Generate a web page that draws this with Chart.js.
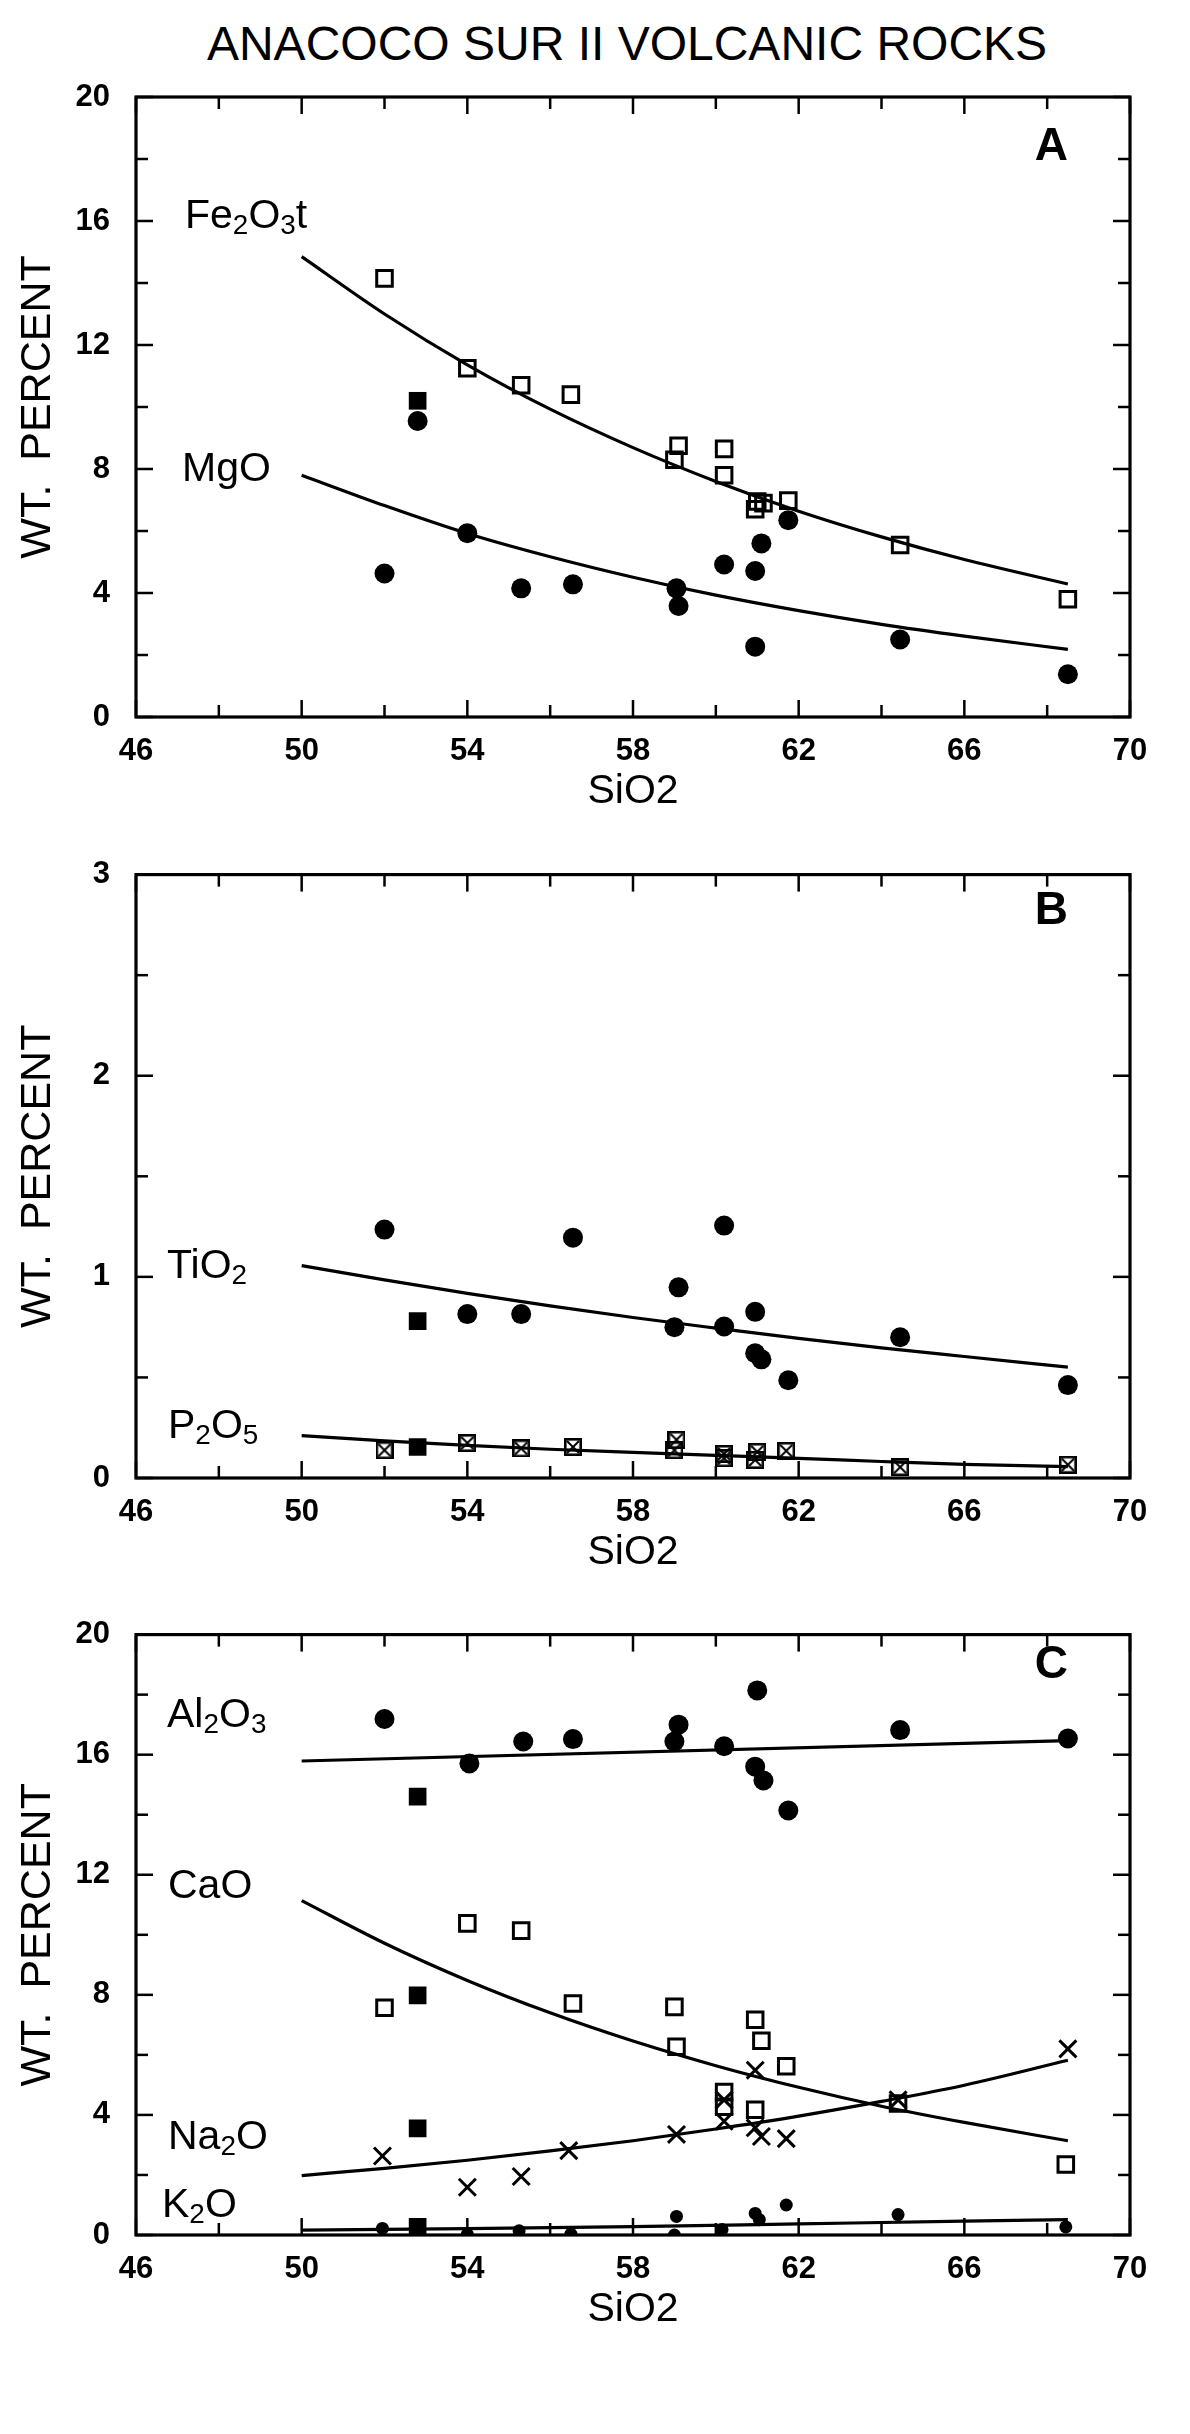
<!DOCTYPE html>
<html><head><meta charset="utf-8">
<script src="https://cdn.jsdelivr.net/npm/chart.js@4.4.0/dist/chart.umd.min.js"></script>
<style>
html,body{margin:0;padding:0;background:#fff;}
body{width:1190px;height:2434px;position:relative;overflow:hidden;font-family:'Liberation Sans',Arial,sans-serif;color:#000;}
canvas{position:absolute;left:0;}
.lbl{position:absolute;font-size:41px;line-height:1;white-space:nowrap;}
.lbl .s{font-size:0.68em;position:relative;top:0.22em;}
.pl{position:absolute;font-size:46px;font-weight:bold;line-height:1;transform:translateX(-100%);}
#title{position:absolute;top:20px;left:627px;transform:translateX(-50%);font-size:48px;line-height:1;white-space:nowrap;}
</style></head><body>
<div id="title">ANACOCO SUR II VOLCANIC ROCKS</div>
<canvas id="cA"></canvas>
<canvas id="cB"></canvas>
<canvas id="cC"></canvas>
<div class="lbl" style="left:185px;top:194px">Fe<span class="s">2</span>O<span class="s">3</span>t</div>
<div class="lbl" style="left:182px;top:447px">MgO</div>
<div class="lbl" style="left:167px;top:1244px">TiO<span class="s">2</span></div>
<div class="lbl" style="left:168px;top:1404px">P<span class="s">2</span>O<span class="s">5</span></div>
<div class="lbl" style="left:167px;top:1693px">Al<span class="s">2</span>O<span class="s">3</span></div>
<div class="lbl" style="left:168px;top:1864px">CaO</div>
<div class="lbl" style="left:168px;top:2115px">Na<span class="s">2</span>O</div>
<div class="lbl" style="left:162px;top:2183px">K<span class="s">2</span>O</div>
<div class="pl" style="left:1068px;top:121px">A</div>
<div class="pl" style="left:1068px;top:885px">B</div>
<div class="pl" style="left:1068px;top:1639px">C</div>
<script>
// ---------- axis ticks ----------
const xMin = 46, xMax = 70, xStep = 2, xLabelStep = 4;
const yMaxAC = 20, yStepAC = 2, yLabelStepAC = 4;
const yMaxB = 3, yStepB = 0.5, yLabelStepB = 1;

// ---------- Panel A ----------
const fe2o3SiO2 = [52.0, 54.0, 55.3, 56.5, 59.0, 59.1, 60.2, 60.2, 60.95, 61.0, 61.15, 61.75, 64.45, 68.5];
const fe2o3Val  = [14.15, 11.25, 10.7, 10.4, 8.3, 8.75, 8.65, 7.8, 6.7, 6.95, 6.9, 6.98, 5.55, 3.8];
const mgoSiO2 = [52.0, 54.0, 55.3, 56.55, 59.05, 59.1, 60.2, 60.95, 60.95, 61.1, 61.75, 64.45, 68.5];
const mgoVal  = [4.63, 5.93, 4.15, 4.28, 4.15, 3.58, 4.92, 4.71, 2.27, 5.6, 6.35, 2.5, 1.38];
const specialSiO2 = [52.8];
const specialFe2O3 = [10.2];
const specialMgO = [9.55];
const fitSiO2 = [50, 52, 54, 56, 58, 60, 62, 64, 66, 68.5];
const fe2o3Fit = [14.85, 13.0, 11.36, 9.93, 8.69, 7.6, 6.64, 5.81, 5.08, 4.29];
const mgoFit   = [7.8, 6.82, 5.92, 5.17, 4.51, 3.93, 3.43, 2.99, 2.61, 2.18];

// ---------- Panel B ----------
const tio2SiO2 = [52.0, 54.0, 55.3, 56.55, 59.0, 59.1, 60.2, 60.2, 60.95, 60.95, 61.1, 61.75, 64.45, 68.5];
const tio2Val  = [1.235, 0.815, 0.815, 1.195, 0.75, 0.948, 1.255, 0.753, 0.826, 0.62, 0.59, 0.486, 0.70, 0.462];
const p2o5SiO2 = [52.0, 54.0, 55.3, 56.55, 59.0, 59.05, 60.2, 60.2, 60.95, 61.0, 61.7, 64.45, 68.5];
const p2o5Val  = [0.138, 0.174, 0.147, 0.154, 0.138, 0.19, 0.098, 0.12, 0.09, 0.13, 0.135, 0.054, 0.066];
const specialTiO2 = [0.78];
const specialP2O5 = [0.154];
const tio2Fit = [1.056, 0.985, 0.918, 0.856, 0.798, 0.745, 0.694, 0.647, 0.604, 0.551];
const p2o5Fit = [0.211, 0.185, 0.162, 0.143, 0.127, 0.112, 0.098, 0.082, 0.068, 0.057];

// ---------- Panel C ----------
const al2o3SiO2 = [52.0, 54.05, 55.35, 56.55, 59.0, 59.1, 60.2, 61.0, 60.95, 61.15, 61.75, 64.45, 68.5];
const al2o3Val  = [17.19, 15.71, 16.44, 16.52, 16.44, 17.0, 16.28, 18.14, 15.6, 15.14, 14.14, 16.82, 16.54];
const caoSiO2 = [52.0, 54.0, 55.3, 56.55, 59.0, 59.05, 60.2, 60.2, 60.95, 60.95, 61.1, 61.7, 64.4, 68.45];
const caoVal  = [7.57, 10.38, 10.14, 7.71, 7.6, 6.27, 4.76, 4.27, 7.17, 4.17, 6.47, 5.62, 4.38, 2.35];
const na2oSiO2 = [51.95, 54.0, 55.3, 56.45, 59.05, 60.2, 60.2, 60.95, 60.95, 61.1, 61.7, 64.4, 68.5];
const na2oVal  = [2.63, 1.59, 1.95, 2.81, 3.35, 4.5, 3.79, 5.49, 3.57, 3.28, 3.21, 4.5, 6.2];
const k2oSiO2 = [51.95, 54.0, 55.25, 56.5, 59.0, 59.05, 60.15, 60.95, 61.05, 61.7, 64.4, 68.45];
const k2oVal  = [0.22, 0.02, 0.14, 0.03, 0.0, 0.62, 0.18, 0.72, 0.51, 1.0, 0.68, 0.27];
const specialAl2O3 = [14.6];
const specialCaO = [7.98];
const specialNa2O = [3.55];
const specialK2O = [0.27];
const al2o3FitSiO2 = [50, 68.5];
const al2o3Fit = [15.79, 16.47];
const caoFit  = [11.14, 9.72, 8.48, 7.40, 6.46, 5.64, 4.92, 4.29, 3.75, 3.14];
const na2oFit = [1.98, 2.22, 2.49, 2.80, 3.14, 3.53, 3.96, 4.45, 4.99, 5.82];
const k2oFitSiO2 = [50, 54, 58, 62, 66, 68.5];
const k2oFit = [0.16, 0.21, 0.28, 0.37, 0.46, 0.51];

// ---------- helpers ----------
const pts = (xs, ys) => xs.map((x, i) => ({x: x, y: ys[i]}));
const BLACK = '#000';
const FONT = "'Liberation Sans', Arial, sans-serif";

function crossedSquare(size) {
  const c = document.createElement('canvas');
  c.width = size; c.height = size;
  const g = c.getContext('2d');
  g.strokeStyle = BLACK;
  g.lineWidth = 2.6;
  g.strokeRect(1.3, 1.3, size - 2.6, size - 2.6);
  g.lineWidth = 2;
  g.beginPath();
  g.moveTo(3, 3); g.lineTo(size - 3, size - 3);
  g.moveTo(size - 3, 3); g.lineTo(3, size - 3);
  g.stroke();
  return c;
}
const crossSq = crossedSquare(18);

const filledCircle = (data, r) => ({data, pointStyle: 'circle', pointRadius: r || 10, pointBackgroundColor: BLACK, pointBorderColor: BLACK, pointBorderWidth: 0, showLine: false});
const openSquare = (data) => ({data, pointStyle: 'rect', pointRadius: 11, pointBackgroundColor: 'rgba(0,0,0,0)', pointBorderColor: BLACK, pointBorderWidth: 3, showLine: false});
const filledSquare = (data) => ({data, pointStyle: 'rect', pointRadius: 12.5, pointBackgroundColor: BLACK, pointBorderColor: BLACK, pointBorderWidth: 0, showLine: false});
const crossMark = (data) => ({data, pointStyle: 'crossRot', pointRadius: 12, pointBorderColor: BLACK, pointBorderWidth: 3, showLine: false});
const crossedSquarePts = (data) => ({data, pointStyle: crossSq, pointRadius: 9, showLine: false});
const fitLine = (data) => ({data, showLine: true, pointRadius: 0, borderColor: BLACK, borderWidth: 3.2, cubicInterpolationMode: 'monotone', fill: false});

const framePlugin = {
  id: 'frame',
  afterDatasetsDraw(chart) {
    const {ctx, chartArea: a, scales: {x, y}} = chart;
    ctx.save();
    ctx.strokeStyle = BLACK;
    ctx.lineCap = 'butt';
    const seg = (x1, y1, x2, y2) => { ctx.beginPath(); ctx.moveTo(x1, y1); ctx.lineTo(x2, y2); ctx.stroke(); };
    ctx.lineWidth = 2.5;
    x.ticks.forEach(t => {
      const px = x.getPixelForValue(t.value);
      const L = (t.label !== '' ? 17 : 12);
      seg(px, a.bottom, px, a.bottom - L);
      seg(px, a.top, px, a.top + L);
    });
    y.ticks.forEach(t => {
      const py = y.getPixelForValue(t.value);
      const L = (t.label !== '' ? 17 : 12);
      seg(a.left, py, a.left + L, py);
      seg(a.right, py, a.right - L, py);
    });
    ctx.lineWidth = 3.2;
    ctx.strokeRect(a.left, a.top, a.right - a.left, a.bottom - a.top);
    ctx.restore();
  }
};

function onStep(v, step) { const q = v / step; return Math.abs(q - Math.round(q)) < 1e-6; }

function makePanel(id, top, height, padTop, yMax, yStep, yLabelStep, datasets) {
  const cv = document.getElementById(id);
  cv.width = 1190; cv.height = height;
  cv.style.top = top + 'px';
  cv.style.width = '1190px'; cv.style.height = height + 'px';
  return new Chart(cv, {
    type: 'scatter',
    data: {datasets},
    options: {
      responsive: false,
      animation: false,
      devicePixelRatio: 1,
      layout: {padding: {top: padTop, right: 60, bottom: 0, left: 0}},
      plugins: {legend: {display: false}, tooltip: {enabled: false}},
      scales: {
        x: {
          type: 'linear', position: 'bottom', min: xMin, max: xMax,
          grid: {display: false, drawTicks: false},
          border: {display: false},
          afterFit: s => { s.height = 110; },
          ticks: {stepSize: xStep, autoSkip: false, maxRotation: 0, padding: 16, color: BLACK,
                  font: {family: FONT, size: 31, weight: 'bold'},
                  callback: v => onStep(v - xMin, xLabelStep) ? String(v) : ''},
          title: {display: true, text: 'SiO2', color: BLACK, font: {family: FONT, size: 41, lineHeight: 1}, padding: {top: 0, bottom: 15}}
        },
        y: {
          type: 'linear', position: 'left', min: 0, max: yMax,
          grid: {display: false, drawTicks: false},
          border: {display: false},
          afterFit: s => { s.width = 136; },
          ticks: {stepSize: yStep, autoSkip: false, padding: 26, color: BLACK,
                  font: {family: FONT, size: 31, weight: 'bold'},
                  callback: v => onStep(v, yLabelStep) ? String(v) : ''},
          title: {display: true, text: 'WT.  PERCENT', color: BLACK, font: {family: FONT, size: 43, lineHeight: 1}, padding: {top: 17, bottom: 0}}
        }
      }
    },
    plugins: [framePlugin]
  });
}

makePanel('cA', 0, 827, 97, yMaxAC, yStepAC, yLabelStepAC, [
  filledSquare(pts(specialSiO2, specialFe2O3)),
  filledCircle(pts(specialSiO2, specialMgO)),
  openSquare(pts(fe2o3SiO2, fe2o3Val)),
  filledCircle(pts(mgoSiO2, mgoVal)),
  fitLine(pts(fitSiO2, fe2o3Fit)),
  fitLine(pts(fitSiO2, mgoFit))
]);

makePanel('cB', 830, 758, 31, yMaxB, yStepB, yLabelStepB, [
  filledSquare(pts(specialSiO2, specialTiO2)),
  filledSquare(pts(specialSiO2, specialP2O5)),
  filledCircle(pts(tio2SiO2, tio2Val)),
  crossedSquarePts(pts(p2o5SiO2, p2o5Val)),
  fitLine(pts(fitSiO2, tio2Fit)),
  fitLine(pts(fitSiO2, p2o5Fit))
]);

makePanel('cC', 1590, 755, 29, yMaxAC, yStepAC, yLabelStepAC, [
  filledSquare(pts(specialSiO2, specialAl2O3)),
  filledSquare(pts(specialSiO2, specialCaO)),
  filledSquare(pts(specialSiO2, specialNa2O)),
  filledSquare(pts(specialSiO2, specialK2O)),
  filledCircle(pts(al2o3SiO2, al2o3Val)),
  crossMark(pts(na2oSiO2, na2oVal)),
  openSquare(pts(caoSiO2, caoVal)),
  filledCircle(pts(k2oSiO2, k2oVal), 6.5),
  fitLine(pts(al2o3FitSiO2, al2o3Fit)),
  fitLine(pts(fitSiO2, caoFit)),
  fitLine(pts(fitSiO2, na2oFit)),
  fitLine(pts(k2oFitSiO2, k2oFit))
]);
</script>
</body></html>
